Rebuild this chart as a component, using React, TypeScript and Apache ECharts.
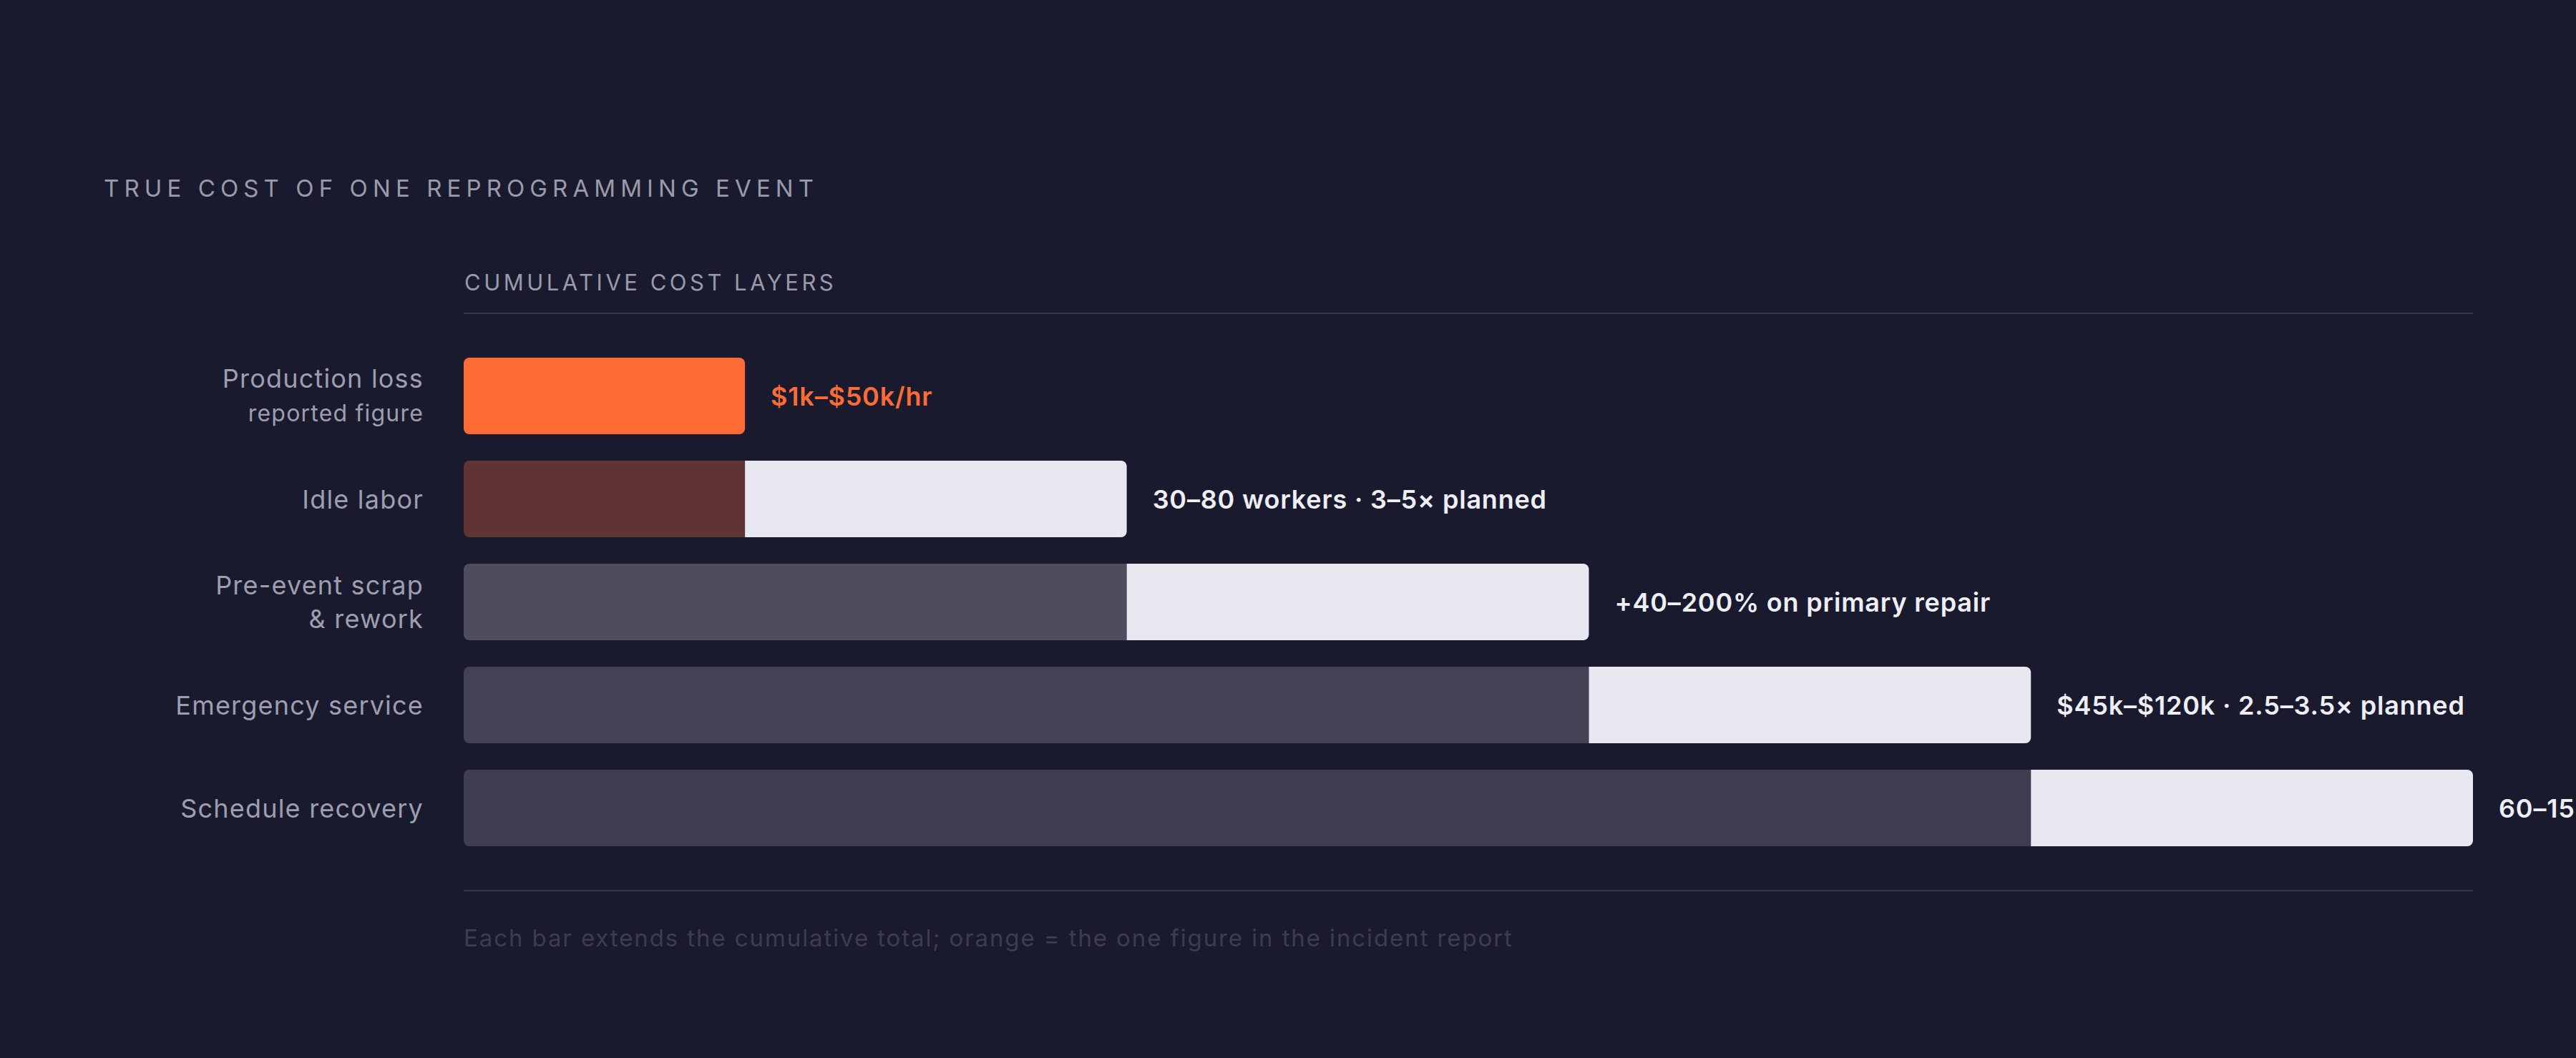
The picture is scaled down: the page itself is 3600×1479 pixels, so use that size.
import React, { useEffect, useRef } from 'react';
import * as echarts from 'echarts';

const categoryLines: string[][] = [
  ['Production loss'],
  ['Idle labor'],
  ['Pre-event scrap', '& rework'],
  ['Emergency service'],
  ['Schedule recovery'],
];
const categorySubtitles = ['reported figure', '', '', '', ''];
const baseValues = [0, 14, 33, 56, 78];
const addedValues = [14, 19, 23, 22, 22];
const valueLabels = [
  '$1k–$50k/hr',
  '30–80 workers · 3–5× planned',
  '+40–200% on primary repair',
  '$45k–$120k · 2.5–3.5× planned',
  '60–150 days · overtime & expediting',
];
const titleText = 'TRUE COST OF ONE REPROGRAMMING EVENT';
const subtitleText = 'CUMULATIVE COST LAYERS';
const footerText = 'Each bar extends the cumulative total; orange = the one figure in the incident report';

const BG = '#1a1a2e';
const ORANGE = '#ff6b35';
const LIGHT = '#e8e8f2';
const BASE_COLORS = ['#5f3432', '#5f3432', '#4e4c5d', '#434254', '#3f3e50'];
const TITLE_FONT = "Inter, 'Liberation Mono'";
const SUB_FONT = "Inter, 'DejaVu Sans Mono'";
const CAT_FONT = "Inter, 'Liberation Sans'";
const VAL_FONT = "Inter, 'Liberation Serif'";
const FOOT_FONT = "Inter, 'DejaVu Serif'";

export default function App() {
  const ref = useRef<HTMLDivElement>(null);
  useEffect(() => {
    document.body.style.margin = '0';
    document.body.style.background = BG;
    const chart = echarts.init(ref.current!, undefined, { renderer: 'svg' });
    const cats = categoryLines.map((l) => l.join(' '));
    chart.setOption({
      animation: false,
      backgroundColor: BG,
      grid: { left: 648, right: 144, top: 481.5, height: 720, containLabel: false },
      xAxis: { type: 'value', min: 0, max: 100, show: false },
      yAxis: {
        type: 'category',
        data: cats,
        inverse: true,
        axisLine: { show: false },
        axisTick: { show: false },
        splitLine: { show: false },
        axisLabel: {
          margin: 56,
          align: 'right',
          formatter: (_v: string, i: number) => {
            const lines = categoryLines[i].map((l) => `{a|${l}}`);
            if (categorySubtitles[i]) lines.push(`{b|${categorySubtitles[i]}}`);
            return lines.join('\n');
          },
          rich: {
            a: { fontSize: 36, lineHeight: 47, color: '#9e9eb0', fontFamily: CAT_FONT, align: 'right' },
            b: { fontSize: 32, lineHeight: 49, color: '#9e9eb0', fontFamily: CAT_FONT, align: 'right' },
          },
        },
      },
      series: [
        {
          type: 'bar',
          name: 'Prior layers',
          stack: 'total',
          barWidth: 107,
          data: baseValues.map((v, i) => ({
            value: v,
            itemStyle: { color: BASE_COLORS[i], borderRadius: [8, 0, 0, 8] },
          })),
        },
        {
          type: 'bar',
          name: 'Added layer',
          stack: 'total',
          barWidth: 107,
          data: addedValues.map((v, i) => ({
            value: v,
            itemStyle: { color: i === 0 ? ORANGE : LIGHT, borderRadius: i === 0 ? 8 : [0, 8, 8, 0] },
            label: { color: i === 0 ? ORANGE : '#eeeef6' },
          })),
          label: {
            show: true,
            position: 'right',
            distance: 36,
            fontSize: 36,
            fontWeight: 600,
            fontFamily: VAL_FONT,
            formatter: (p: any) => valueLabels[p.dataIndex],
          },
        },
      ],
      graphic: [
        {
          type: 'text',
          x: 145,
          y: 263,
          style: { text: titleText, fill: '#9a9aab', fontSize: 33, fontFamily: TITLE_FONT, verticalAlign: 'middle', align: 'left' },
        },
        {
          type: 'text',
          x: 649,
          y: 394.5,
          style: { text: subtitleText, fill: '#9a9aab', fontSize: 31, fontFamily: SUB_FONT, verticalAlign: 'middle', align: 'left' },
        },
        {
          type: 'line',
          shape: { x1: 648, y1: 438, x2: 3456, y2: 438 },
          style: { stroke: '#37374b', lineWidth: 2 },
        },
        {
          type: 'line',
          shape: { x1: 648, y1: 1245, x2: 3456, y2: 1245 },
          style: { stroke: '#37374b', lineWidth: 2 },
        },
        {
          type: 'text',
          x: 648,
          y: 1311,
          style: { text: footerText, fill: '#3c3c52', fontSize: 33, fontFamily: FOOT_FONT, verticalAlign: 'middle', align: 'left' },
        },
      ],
    });
    return () => chart.dispose();
  }, []);
  return (
    <>
      <style>{`text[style*="Liberation Mono"]{letter-spacing:7.1px}text[style*="DejaVu Sans Mono"]{letter-spacing:4.5px}text[style*="Liberation Sans"]{letter-spacing:1.2px}text[style*="Liberation Serif"]{letter-spacing:0.8px}text[style*="DejaVu Serif"]{letter-spacing:1.9px}`}</style>
      <div ref={ref} style={{ width: 3600, height: 1479, overflow: 'hidden' }} />
    </>
  );
}
